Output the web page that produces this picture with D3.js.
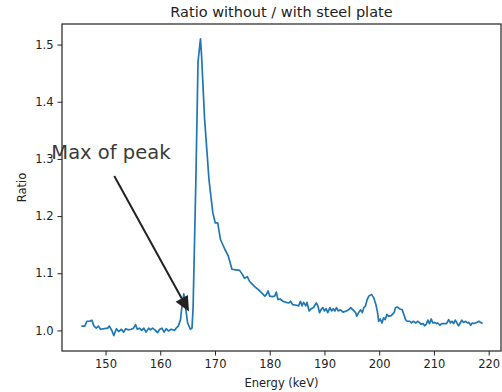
<!DOCTYPE html>
<html>
<head>
<meta charset="utf-8">
<script src="https://cdn.jsdelivr.net/npm/d3@7"></script>
<style>
  body { margin: 0; background: #fff; }
  svg { display: block; font-family: "DejaVu Sans", sans-serif; }
</style>
</head>
<body>
<svg id="chart" width="502" height="392"></svg>
<script>
// energy (keV) and ratio
const energy = [
  145.6, 146.2, 146.6, 147.1, 147.5, 147.9, 148.3, 148.7, 149.1, 149.8,
  150.4, 150.7, 151.2, 151.5, 152.0, 152.4, 152.9, 153.3, 153.7, 154.1,
  154.7, 155.1, 155.5, 155.8, 156.2, 156.6, 157.0, 157.4, 157.9, 158.2,
  158.6, 159.1, 159.5, 159.9, 160.3, 160.7, 161.1, 161.5, 162.0, 162.6,
  162.9, 163.3, 163.7, 163.9, 164.3, 164.6, 165.0, 165.5, 165.8, 166.0,
  166.5, 166.9, 167.35, 167.55, 168.1, 168.9, 169.6, 170.05, 170.5, 171.0,
  171.8, 172.4, 173.1, 173.8, 174.5, 175.0, 175.4, 175.9, 176.3, 177.2,
  178.2, 178.8, 179.1, 179.4, 179.7, 180.0, 180.5, 180.9, 181.2, 181.5,
  181.9, 182.4, 183.0, 183.5, 183.8, 184.2, 184.9, 185.3, 185.6, 185.9,
  186.2, 186.6, 186.8, 187.2, 187.6, 188.0, 188.5, 188.8, 189.1, 189.4,
  189.7, 190.0, 190.3, 190.6, 191.0, 191.3, 191.6, 191.9, 192.2, 192.5,
  192.9, 193.4, 194.0, 194.4, 194.8, 195.2, 195.7, 195.9, 196.3, 196.6,
  196.9, 197.2, 197.5, 197.8, 198.1, 198.6, 199.0, 199.4, 199.7, 199.9,
  200.2, 200.5, 200.8, 201.1, 201.4, 201.7, 202.2, 202.7, 203.0, 203.3,
  203.7, 204.2, 204.5, 204.8, 205.1, 205.6, 205.9, 206.2, 206.7, 207.0,
  207.3, 207.6, 208.0, 208.3, 208.6, 208.9, 209.2, 209.5, 209.8, 210.1,
  210.5, 210.7, 211.1, 211.4, 211.7, 212.3, 212.7, 213.0, 213.3, 213.6,
  213.9, 214.2, 214.5, 214.8, 215.1, 215.4, 215.8, 216.1, 216.4, 216.7,
  217.0, 217.3, 217.8, 218.2, 218.7, 218.9
];
const ratio = [
  1.0075, 1.0075, 1.016, 1.016, 1.018, 1.0075, 1.004, 1.0075, 1.002, 1.003,
  1.004, 1.0075, 0.999, 0.991, 1.003, 0.998, 1.002, 0.997, 1.003, 1.001,
  1.002, 1.004, 1.010, 1.002, 1.004, 1.000, 1.004, 0.997, 1.004, 1.001,
  1.004, 1.000, 0.996, 1.002, 1.004, 0.997, 1.003, 0.999, 1.002, 1.000,
  1.004, 1.0075, 1.019, 1.037, 1.064, 1.042, 1.013, 1.002, 1.004, 1.040,
  1.260, 1.470, 1.510, 1.480, 1.370, 1.264, 1.206, 1.188, 1.188, 1.159,
  1.142, 1.131, 1.107, 1.106, 1.105, 1.098, 1.091, 1.094, 1.086, 1.077,
  1.069, 1.063, 1.060, 1.063, 1.069, 1.060, 1.059, 1.060, 1.067, 1.054,
  1.055, 1.051, 1.049, 1.048, 1.051, 1.045, 1.044, 1.043, 1.051, 1.043,
  1.049, 1.043, 1.049, 1.034, 1.038, 1.040, 1.048, 1.043, 1.031, 1.037,
  1.040, 1.034, 1.038, 1.031, 1.040, 1.034, 1.038, 1.034, 1.040, 1.034,
  1.036, 1.032, 1.034, 1.036, 1.040, 1.036, 1.031, 1.025, 1.032, 1.036,
  1.031, 1.040, 1.043, 1.054, 1.060, 1.063, 1.057, 1.045, 1.031, 1.016,
  1.020, 1.013, 1.022, 1.019, 1.028, 1.025, 1.026, 1.031, 1.040, 1.041,
  1.038, 1.036, 1.028, 1.019, 1.016, 1.016, 1.013, 1.016, 1.013, 1.016,
  1.014, 1.011, 1.012, 1.008, 1.011, 1.018, 1.012, 1.020, 1.013, 1.014,
  1.012, 1.013, 1.009, 1.012, 1.012, 1.012, 1.019, 1.013, 1.016, 1.012,
  1.018, 1.013, 1.008, 1.013, 1.018, 1.014, 1.016, 1.013, 1.014, 1.009,
  1.013, 1.012, 1.014, 1.016, 1.013, 1.012
];
const xTicks = [150, 160, 170, 180, 190, 200, 210, 220];
const yTicks = [1.0, 1.1, 1.2, 1.3, 1.4, 1.5];

// annotation, in data units
const noteText = "Max of peak";
const notePos = [140.1, 1.30];
const arrowFrom = [151.6, 1.27];
const arrowTo = [165.25, 1.033];

const margin = { top: 24, right: 1, bottom: 41, left: 62 };
const width = 502 - margin.left - margin.right;
const height = 392 - margin.top - margin.bottom;

const svg = d3.select("#chart");
const g = svg.append("g").attr("transform", `translate(${margin.left},${margin.top})`);

const data = energy.map((e, i) => ({ e, r: ratio[i] }));

const xScale = d3.scaleLinear().domain([142.05, 222.25]).range([0, width]);
const yScale = d3.scaleLinear().domain([0.964, 1.536]).range([height, 0]);

const line = d3.line().x((d) => xScale(d.e)).y((d) => yScale(d.r));

g.append("path")
  .datum(data)
  .attr("fill", "none")
  .attr("stroke", "#1f77b4")
  .attr("stroke-width", 1.7)
  .attr("stroke-linejoin", "round")
  .attr("d", line);

// axes
const xAxis = g.append("g")
  .attr("transform", `translate(0,${height})`)
  .call(d3.axisBottom(xScale).tickValues(xTicks).tickFormat(d3.format("d")).tickSize(4.5).tickPadding(4));
const yAxis = g.append("g")
  .call(d3.axisLeft(yScale).tickValues(yTicks).tickFormat(d3.format(".1f")).tickSize(4.5).tickPadding(4));

[xAxis, yAxis].forEach((a) => {
  a.select(".domain").remove();
  a.selectAll("text").attr("font-size", 11.5).attr("fill", "#222").attr("font-family", "DejaVu Sans");
  a.selectAll("line").attr("stroke", "#222").attr("stroke-width", 1);
});

// frame
g.append("rect")
  .attr("width", width)
  .attr("height", height)
  .attr("fill", "none")
  .attr("stroke", "#222")
  .attr("stroke-width", 1.2);

// labels
svg.append("text")
  .attr("x", margin.left + width / 2)
  .attr("y", 17)
  .attr("text-anchor", "middle")
  .attr("font-size", 14.5)
  .attr("fill", "#222")
  .text("Ratio without / with steel plate");

svg.append("text")
  .attr("x", margin.left + width / 2)
  .attr("y", 387)
  .attr("text-anchor", "middle")
  .attr("font-size", 11.5)
  .attr("fill", "#222")
  .text("Energy (keV)");

svg.append("text")
  .attr("transform", `translate(26,${margin.top + height / 2}) rotate(-90)`)
  .attr("text-anchor", "middle")
  .attr("font-size", 11.5)
  .attr("fill", "#222")
  .text("Ratio");

// annotation
svg.append("text")
  .attr("x", margin.left + xScale(notePos[0]))
  .attr("y", margin.top + yScale(notePos[1]))
  .attr("font-size", 19.5)
  .attr("fill", "#3a3a3a")
  .text(noteText);

const x0 = margin.left + xScale(arrowFrom[0]), y0 = margin.top + yScale(arrowFrom[1]);
const x1 = margin.left + xScale(arrowTo[0]), y1 = margin.top + yScale(arrowTo[1]);
const ang = Math.atan2(y1 - y0, x1 - x0);
const headLen = 15, headW = 7;
const bx = x1 - headLen * Math.cos(ang), by = y1 - headLen * Math.sin(ang);

svg.append("line")
  .attr("x1", x0).attr("y1", y0)
  .attr("x2", bx).attr("y2", by)
  .attr("stroke", "#222")
  .attr("stroke-width", 2);

svg.append("path")
  .attr("d", d3.line()([
    [x1, y1],
    [bx + headW * Math.sin(ang), by - headW * Math.cos(ang)],
    [bx - headW * Math.sin(ang), by + headW * Math.cos(ang)],
  ]) + "Z")
  .attr("fill", "#222");
</script>
</body>
</html>
